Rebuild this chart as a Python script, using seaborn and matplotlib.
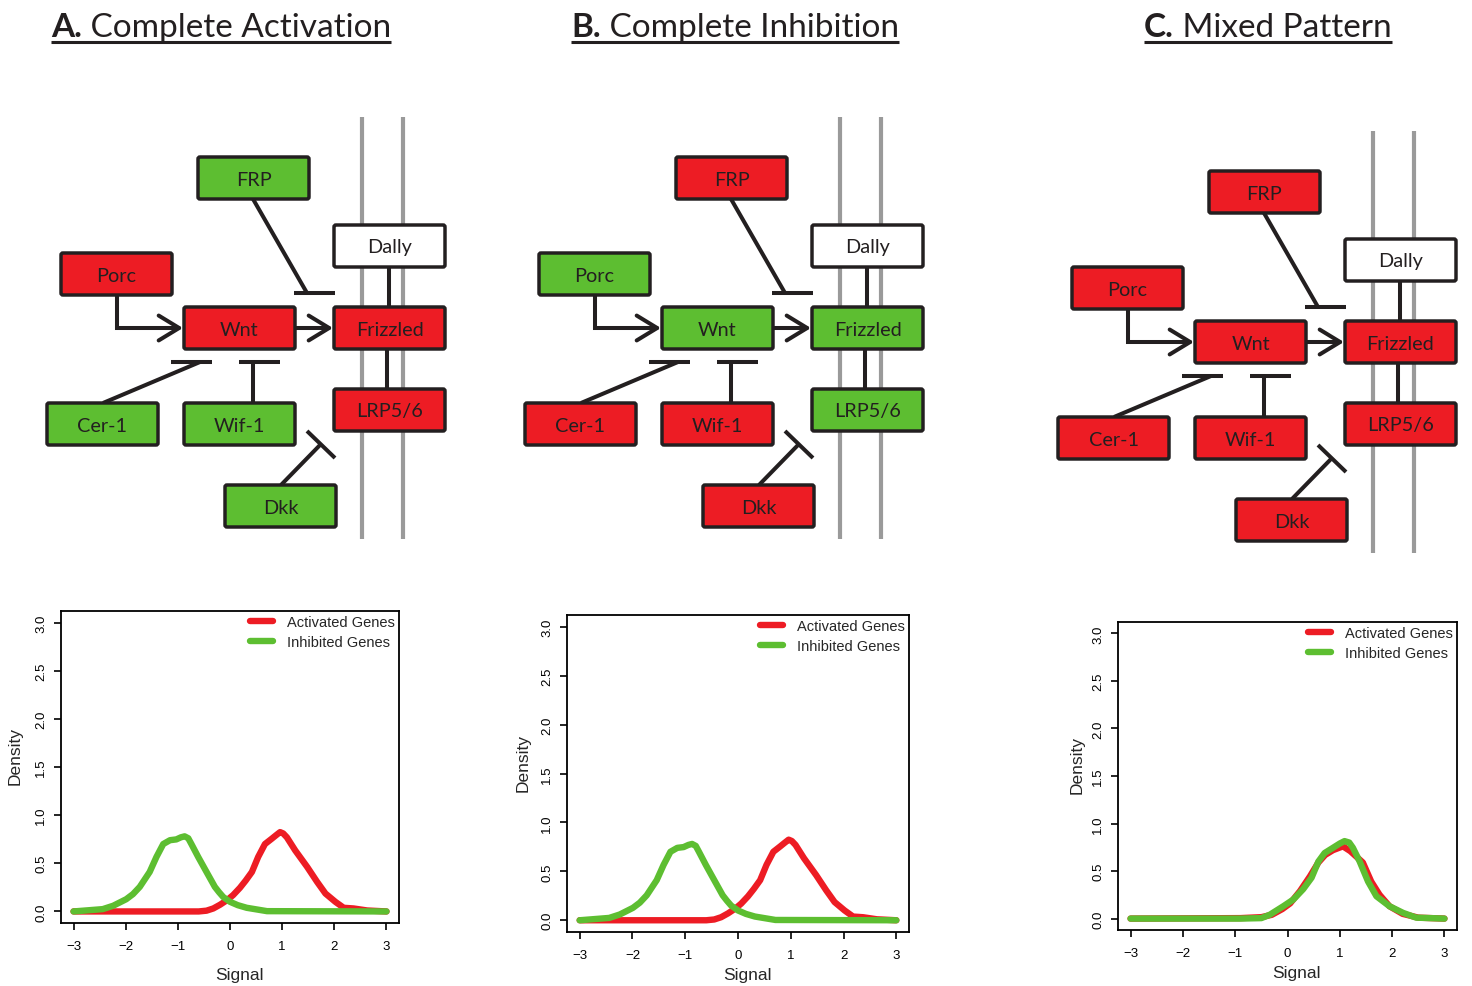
import matplotlib
matplotlib.use("Agg")
import matplotlib.pyplot as plt
from matplotlib.patches import FancyBboxPatch, FancyArrowPatch
import numpy as np
import pandas as pd
import seaborn as sns

# ---------------------------------------------------------------- data
panel_titles = [("A.", "Complete Activation"),
                ("B.", "Complete Inhibition"),
                ("C.", "Mixed Pattern")]

genes = ["FRP", "Dally", "Porc", "Wnt", "Frizzled", "Cer-1", "Wif-1", "LRP5/6", "Dkk"]

# state of each gene in the three scenarios: up / down / none
states_A = ["down", "none", "up", "up", "up", "down", "down", "up", "down"]
states_B = ["up", "none", "down", "down", "down", "up", "up", "down", "up"]
states_C = ["up", "none", "up", "up", "up", "up", "up", "up", "up"]

series_names = ["Activated Genes", "Inhibited Genes"]

# density curves (signal, density)
act_AB_x = [-3.0, -0.6, -0.45, -0.32, -0.19, -0.05, 0.06, 0.19, 0.30, 0.42, 0.54,
            0.67, 0.80, 0.88, 0.96, 1.02, 1.09, 1.25, 1.48, 1.67, 1.83, 2.02,
            2.18, 2.37, 2.63, 3.0]
act_AB_y = [0.0, 0.0, 0.008, 0.031, 0.07, 0.12, 0.17, 0.245, 0.32, 0.41, 0.566,
            0.70, 0.755, 0.79, 0.824, 0.81, 0.77, 0.634, 0.462, 0.307, 0.186, 0.10,
            0.038, 0.031, 0.01, 0.0]
inh_AB_x = [-3.0, -2.44, -2.24, -1.99, -1.86, -1.73, -1.54, -1.41, -1.28, -1.15,
            -1.03, -0.94, -0.87, -0.80, -0.74, -0.61, -0.45, -0.29, -0.21, -0.13,
            0.0, 0.15, 0.32, 0.71, 3.0]
inh_AB_y = [0.0, 0.024, 0.059, 0.127, 0.18, 0.255, 0.41, 0.566, 0.70, 0.74,
            0.748, 0.77, 0.78, 0.76, 0.70, 0.566, 0.41, 0.255, 0.20, 0.15,
            0.10, 0.065, 0.038, 0.003, 0.0]

act_C_x = [-3.0, -0.9, -0.5, -0.3, -0.1, 0.05, 0.24, 0.43, 0.59, 0.72, 0.87, 1.06,
           1.20, 1.32, 1.44, 1.60, 1.76, 1.95, 2.20, 2.50, 3.0]
act_C_y = [0.0, 0.005, 0.015, 0.04, 0.10, 0.16, 0.29, 0.445, 0.59, 0.67, 0.72, 0.76,
           0.71, 0.65, 0.59, 0.39, 0.25, 0.13, 0.05, 0.01, 0.0]
inh_C_x = [-3.0, -0.9, -0.5, -0.34, -0.08, 0.11, 0.30, 0.46, 0.59, 0.71, 0.87, 1.00,
           1.09, 1.18, 1.25, 1.38, 1.54, 1.70, 1.95, 2.21, 2.46, 3.0]
inh_C_y = [0.0, 0.0, 0.005, 0.04, 0.13, 0.20, 0.31, 0.43, 0.60, 0.69, 0.745, 0.79,
           0.815, 0.80, 0.745, 0.60, 0.39, 0.235, 0.13, 0.06, 0.01, 0.0]

x_ticks = [-3, -2, -1, 0, 1, 2, 3]
y_ticks = [0.0, 0.5, 1.0, 1.5, 2.0, 2.5, 3.0]

# ---------------------------------------------------------------- style
RED = "#ED1C24"
GREEN = "#5DBE31"
INK = "#231F20"
state_color = {"up": RED, "down": GREEN, "none": "white"}

sns.set_theme(style="white")
plt.rcParams["font.family"] = ["Liberation Sans", "DejaVu Sans"]

W, H = 1472, 987
fig = plt.figure(figsize=(W / 100, H / 100), dpi=100)

# full-figure canvas for the pathway diagrams (pixel units, y down)
canvas = fig.add_axes([0, 0, 1, 1])
canvas.set_xlim(0, W)
canvas.set_ylim(H, 0)
canvas.axis("off")

BOX_W, BOX_H = 111, 42
layout = {  # top-left corner of each gene box in the first panel
    "FRP": (198, 158), "Dally": (334, 226), "Porc": (61, 254),
    "Wnt": (184, 308), "Frizzled": (334, 308), "Cer-1": (47, 404),
    "Wif-1": (184, 404), "LRP5/6": (334, 390), "Dkk": (225, 486),
}
panel_offsets = [(0, 0), (478, 0), (1011, 14)]
title_left = [51, 571, 1144]
LW = 2.9


def seg(ox, oy, pts, **kw):
    xs = [p[0] + ox for p in pts]
    ys = [p[1] + oy for p in pts]
    canvas.plot(xs, ys, color=INK, lw=kw.get("lw", LW), solid_capstyle="butt",
                solid_joinstyle="miter", zorder=kw.get("z", 2))


def draw_diagram(ox, oy, states):
    # membrane
    for mx in (362, 403):
        canvas.plot([mx + ox, mx + ox], [118 + oy, 540 + oy], color="#9A9A9A",
                    lw=3.0, solid_capstyle="butt", zorder=1)
    # boxes
    for g, s in zip(genes, states):
        x0, y0 = layout[g]
        box = FancyBboxPatch((x0 + ox, y0 + oy), BOX_W, BOX_H,
                             boxstyle="round,pad=0,rounding_size=2",
                             facecolor=state_color[s], edgecolor=INK,
                             lw=2.5, zorder=3)
        canvas.add_patch(box)
        canvas.text(x0 + ox + BOX_W / 2, y0 + oy + BOX_H / 2 + 1, g,
                    ha="center", va="center", fontsize=14.3, color=INK,
                    family=["Lato", "DejaVu Sans"], zorder=4)
    # activation arrows
    seg(ox, oy, [(117, 296), (117, 329), (170, 329)])
    for (xa, xb) in [((165, 329), (183, 329)), ((295, 329), (333, 329))]:
        arr = FancyArrowPatch((xa[0] + ox, xa[1] + oy), (xb[0] + ox, xb[1] + oy),
                              arrowstyle="->,head_length=4.6,head_width=2.8",
                              color=INK, lw=LW, mutation_scale=3.2,
                              shrinkA=0, shrinkB=0, zorder=2)
        canvas.add_artist(arr)
    # connections
    seg(ox, oy, [(389, 268), (389, 308)])
    seg(ox, oy, [(387, 350), (387, 390)])
    # inhibitions
    seg(ox, oy, [(253, 200), (307, 294)])
    seg(ox, oy, [(294, 294), (335, 294)])
    seg(ox, oy, [(103, 404), (200, 363)])
    seg(ox, oy, [(171, 363), (212, 363)])
    seg(ox, oy, [(253, 404), (253, 363)])
    seg(ox, oy, [(239, 363), (280, 363)])
    seg(ox, oy, [(281, 486), (321, 445)])
    seg(ox, oy, [(307, 432), (335, 459)])


for (ox, oy), st in zip(panel_offsets, [states_A, states_B, states_C]):
    draw_diagram(ox, oy, st)

# titles with underline
fig.canvas.draw()
renderer = fig.canvas.get_renderer()
inv = canvas.transData.inverted()
for (bold, rest), left in zip(panel_titles, title_left):
    t1 = canvas.text(left, 37, bold, ha="left", va="baseline", fontsize=24,
                     fontweight="bold", color=INK, family=["Lato", "DejaVu Sans"])
    bb = t1.get_window_extent(renderer)
    x_end = inv.transform((bb.x1, bb.y0))[0]
    t2 = canvas.text(x_end, 37, " " + rest, ha="left", va="baseline", fontsize=24,
                     color=INK, family=["Lato", "DejaVu Sans"])
    bb2 = t2.get_window_extent(renderer)
    x_right = inv.transform((bb2.x1, bb2.y0))[0]
    canvas.plot([left, x_right], [42.5, 42.5], color=INK, lw=2.2,
                solid_capstyle="butt")

# ---------------------------------------------------------------- density plots
axes_px = [(61, 612, 399, 924), (567, 616, 909, 933), (1118, 623, 1457, 931)]
xlabel_gap = [52, 43, 43]     # px from box bottom to the centre of "Signal"
ylabel_gap = [46, 44, 41]     # px from box left to the centre of "Density"
XLAB_SHIFT = 9                # "Signal" sits slightly right of centre
YLAB_SHIFT = 12               # "Density" sits slightly above centre
curves = [
    (act_AB_x, act_AB_y, inh_AB_x, inh_AB_y),
    (act_AB_x, act_AB_y, inh_AB_x, inh_AB_y),
    (act_C_x, act_C_y, inh_C_x, inh_C_y),
]

for (x0, y0, x1, y1), (ax_, ay_, ix_, iy_), gx, gy in zip(axes_px, curves,
                                                         xlabel_gap, ylabel_gap):
    aw, ah = x1 - x0, y1 - y0
    ax = fig.add_axes([x0 / W, 1 - y1 / H, aw / W, ah / H])
    df = pd.DataFrame({
        "Signal": list(ax_) + list(ix_),
        "Density": list(ay_) + list(iy_),
        "genes": [series_names[0]] * len(ax_) + [series_names[1]] * len(ix_),
    })
    sns.lineplot(data=df, x="Signal", y="Density", hue="genes",
                 hue_order=series_names, palette=[RED, GREEN], lw=4.6,
                 sort=False, estimator=None, ax=ax, legend=False)
    for ln in ax.get_lines():
        ln.set_solid_capstyle("round")
        ln.set_solid_joinstyle("round")
    ax.set_xlim(-3.24, 3.24)
    ax.set_ylim(-0.12, 3.12)
    ax.set_xticks(x_ticks)
    ax.set_yticks(y_ticks)
    ax.set_xticklabels([f"{v:d}".replace("-", "\u2212") for v in x_ticks])
    ax.set_yticklabels([f"{v:.1f}" for v in y_ticks], rotation=90, va="center")
    ax.tick_params(axis="both", direction="out", length=5, width=1.2,
                   labelsize=9.5, colors="black", bottom=True, left=True)
    ax.tick_params(axis="x", pad=7)
    ax.tick_params(axis="y", pad=5)
    for sp in ax.spines.values():
        sp.set_visible(True)
        sp.set_color("black")
        sp.set_linewidth(1.3)
    ax.set_xlabel("Signal", fontsize=12.5)
    ax.set_ylabel("Density", fontsize=12.5)
    ax.xaxis.set_label_coords(0.5 + XLAB_SHIFT / aw, -gx / ah)
    ax.xaxis.label.set_va("center")
    ax.yaxis.set_label_coords(-gy / aw, 0.5 + YLAB_SHIFT / ah)
    ax.yaxis.label.set_va("center")
    ax.yaxis.label.set_ha("center")
    ax.set_facecolor("white")
    handles = [plt.Line2D([], [], color=c, lw=4.6, solid_capstyle="round")
               for c in (RED, GREEN)]
    ax.legend(handles, series_names, loc="upper right", frameon=False,
              fontsize=10.5, handlelength=1.6, handletextpad=1.0,
              labelspacing=0.45, borderaxespad=0.05, borderpad=0.2)

fig.savefig("out.png", dpi=100, facecolor="white")
